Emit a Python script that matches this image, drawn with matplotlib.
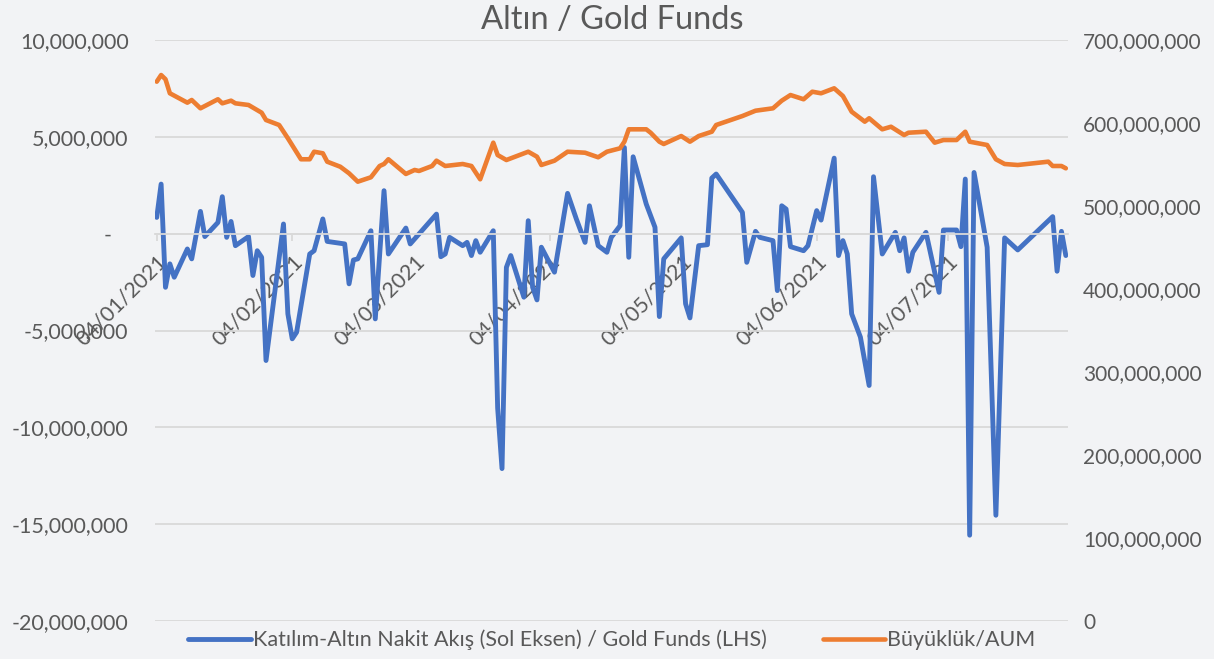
import numpy as np
import pandas as pd
import matplotlib
matplotlib.use("Agg")
import matplotlib.pyplot as plt
import matplotlib.dates as mdates
import matplotlib.ticker as mticker

plt.rcParams['font.family'] = ['Lato', 'DejaVu Sans']

start = pd.Timestamp('2021-01-04')

# fund flows (left axis), million TRY, days after 04/01/2021
flow_days = [0, 1, 2, 3, 4, 7, 8, 10, 11, 14, 15, 16, 17, 18, 21, 22, 23, 24, 25,
             29, 30, 31, 32, 35, 36, 38, 39, 43, 44, 45, 46, 49, 50, 52, 53, 57, 58,
             64, 65, 66, 67, 70, 71, 72, 73, 74, 77, 78, 79, 80, 81, 84, 85, 86, 87,
             88, 91, 94, 96, 98, 99, 101, 103, 104, 106, 107, 108, 109, 112, 114,
             115, 116, 120, 121, 122, 124, 126, 127, 128, 134, 135, 137, 138, 141,
             142, 143, 144, 145, 148, 149, 151, 152, 155, 156, 157, 158, 159, 161,
             163, 164, 166, 169, 170, 171, 172, 173, 176, 179, 180, 183, 184, 185,
             186, 187, 190, 192, 194, 197, 205, 206, 207, 208]
flow_mn = [0.84, 2.56, -2.77, -1.56, -2.25, -0.79, -1.30, 1.15, -0.15, 0.58, 1.91,
           -0.19, 0.63, -0.62, -0.15, -2.16, -0.88, -1.22, -6.55,
           0.50, -4.14, -5.43, -5.09, -1.05, -0.88, 0.76, -0.40, -0.53, -2.59, -1.36,
           -1.30, 0.15, -4.40, 2.22, -1.05, 0.29, -0.53,
           1.01, -1.19, -1.05, -0.19, -0.62, -0.45, -1.13, -0.36, -0.96, 0.15, -9.00,
           -12.13, -1.74, -1.13, -3.28, 0.67, -2.77, -3.42,
           -0.70, -1.99, 2.08, 0.76, -0.45, 1.44, -0.62, -0.96, -0.19, 0.41, 4.45,
           -1.22, 3.97, 1.53, 0.33,
           -4.28, -1.30, -0.22, -3.62, -4.35, -0.62, -0.57, 2.87, 3.08, 1.10, -1.48,
           0.12, -0.19, -0.36,
           -2.94, 1.44, 1.27, -0.67, -0.88, -0.62, 1.19, 0.70, 3.90, -1.13, -0.36,
           -1.05, -4.14, -5.34,
           -7.84, 2.94, -1.05, 0.07, -0.88, -0.22, -1.94, -0.96, 0.07, -3.03, 0.19,
           0.19, -0.67, 2.82,
           -15.57, 3.16, -0.70, -14.54, -0.22, -0.84, 0.88, -1.94, 0.12, -1.13]

# assets under management (right axis), million TRY
aum_days = [0, 1, 2, 3, 7, 8, 10, 14, 15, 17, 18, 21, 24, 25, 28, 30, 33, 35, 36,
            38, 39, 42, 44, 46, 49, 51, 52, 53, 57, 59, 60, 63, 64, 66, 70, 72, 74,
            77, 78, 80, 85, 87, 88, 91, 94, 98, 101, 103, 106, 107, 108, 112, 113,
            115, 116, 120, 122, 124, 127, 128, 134, 137, 141, 143, 145, 148, 150,
            152, 155, 157, 159, 162, 163, 166, 168, 171, 172, 176, 178, 180, 183,
            185, 186, 190, 192, 194, 197, 204, 205, 207, 208]
aum_mn = [649.8, 657.8, 652.7, 635.8, 624.5, 627.7, 617.7, 628.6, 623.7, 626.9,
          623.7, 621.7, 612.4, 603.6, 597.6, 581.6, 556.3, 556.3, 565.4,
          563.5, 553.4, 547.3, 539.4, 529.3, 534.6, 548.2, 550.6, 556.3, 538.6,
          543.4, 542.2, 548.2, 554.6, 548.2, 550.6, 548.2, 532.2,
          576.3, 561.4, 555.4, 565.4, 559.4, 549.4, 554.6, 565.4, 564.2, 558.7,
          565.4, 569.5, 577.5, 592.4, 592.4, 588.3,
          577.5, 574.7, 584.3, 577.5, 584.3, 589.5, 597.6, 608.4, 614.8, 617.7,
          626.9, 633.7, 628.6, 637.7,
          635.8, 641.8, 632.5, 613.6, 601.6, 605.7, 592.4, 595.5, 585.5, 588.3,
          589.5, 576.3, 579.5, 579.5,
          589.5, 577.5, 573.5, 556.3, 550.6, 549.4, 553.4, 548.2, 548.2, 545.4]

month_ticks = pd.date_range('2021-01-04', periods=7, freq=pd.DateOffset(months=1))

flow_dates = start + pd.to_timedelta(flow_days, unit='D')
aum_dates = start + pd.to_timedelta(aum_days, unit='D')

grey = '#595959'
blue = '#4472C4'
orange = '#ED7D31'

fig = plt.figure(figsize=(12.14, 6.59), dpi=100, facecolor='#f2f3f5')
ax = fig.add_axes([155 / 1214, 1 - 621 / 659, (1068 - 155) / 1214, (621 - 40) / 659])
ax.set_facecolor('none')
ax2 = ax.twinx()

l1, = ax.plot(flow_dates, np.array(flow_mn) * 1e6, color=blue, lw=3.5,
              solid_joinstyle='round', solid_capstyle='round')
l2, = ax2.plot(aum_dates, np.array(aum_mn) * 1e6, color=orange, lw=3.3,
               solid_joinstyle='round', solid_capstyle='round')

ax.set_ylim(-20e6, 10e6)
ax.set_yticks(np.arange(-20e6, 10.1e6, 5e6))
ax2.set_ylim(0, 700e6)
ax2.set_yticks(np.arange(0, 701e6, 100e6))

ax.yaxis.grid(True, color='#d9d9d9', lw=1.3)
ax.set_axisbelow(True)


def left_fmt(v, pos):
    if abs(v) < 1:
        return '-   '
    return f'{v:,.0f}'


ax.yaxis.set_major_formatter(mticker.FuncFormatter(left_fmt))
ax2.yaxis.set_major_formatter(mticker.FuncFormatter(lambda v, p: f'{v:,.0f}'))

for a in (ax, ax2):
    for s in a.spines.values():
        s.set_visible(False)
ax.spines['bottom'].set_visible(True)
ax.spines['bottom'].set_position(('data', 0))
ax.spines['bottom'].set_color('#d9d9d9')
ax.spines['bottom'].set_linewidth(1.3)

ax.set_xlim(mdates.date2num(start) - 0.4, mdates.date2num(start) + 208.5)
ax.set_xticks(month_ticks)
ax.xaxis.set_major_formatter(mdates.DateFormatter('%d/%m/%Y'))
ax.tick_params(axis='x', length=5, width=1.3, color='#d9d9d9', labelcolor=grey,
               labelsize=15.5, pad=8)
for lbl in ax.get_xticklabels():
    lbl.set_rotation(45)
    lbl.set_ha('right')
    lbl.set_rotation_mode('anchor')

ax.tick_params(axis='y', length=0, labelcolor=grey, labelsize=15.5, pad=19)
ax2.tick_params(axis='y', length=0, labelcolor=grey, labelsize=15, pad=11)

fig.text(0.504, 1 - 20 / 659, 'Altın / Gold Funds', ha='center', va='center',
         fontsize=23.5, color=grey)

fig.legend([l1, l2], ['Katılım-Altın Nakit Akış (Sol Eksen) / Gold Funds (LHS)',
                      'Büyüklük/AUM'],
           loc='center', bbox_to_anchor=(0.504, 1 - 640 / 659), ncol=2,
           frameon=False, fontsize=15.5, handlelength=2.9, handletextpad=0.1,
           columnspacing=2.6, labelcolor=grey)

fig.savefig('out.png', dpi=100, facecolor=fig.get_facecolor())
